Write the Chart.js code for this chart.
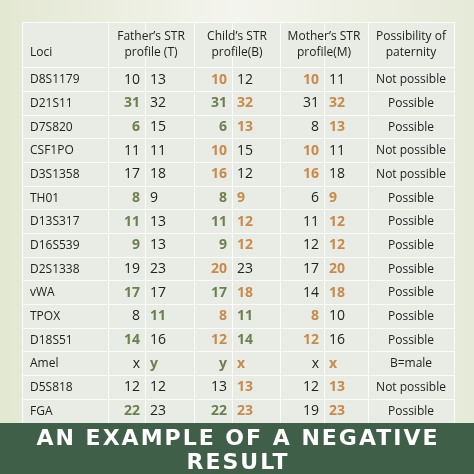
<!DOCTYPE html>
<html>
<head>
<meta charset="utf-8">
<script src="https://cdn.jsdelivr.net/npm/chart.js@4"></script>
<style>
  html, body { margin: 0; padding: 0; background: #eef0e6; }
  canvas { display: block; }
</style>
</head>
<body>
<canvas id="strChart" width="474" height="474"></canvas>
<script>
// table contents
const loci = ['D8S1179', 'D21S11', 'D7S820', 'CSF1PO', 'D3S1358', 'TH01', 'D13S317', 'D16S539',
  'D2S1338', 'vWA', 'TPOX', 'D18S51', 'Amel', 'D5S818', 'FGA'];
const father = [['10', '13'], ['31', '32'], ['6', '15'], ['11', '11'], ['17', '18'], ['8', '9'], ['11', '13'], ['9', '13'],
  ['19', '23'], ['17', '17'], ['8', '11'], ['14', '16'], ['x', 'y'], ['12', '12'], ['22', '23']];
const child = [['10', '12'], ['31', '32'], ['6', '13'], ['10', '15'], ['16', '12'], ['8', '9'], ['11', '12'], ['9', '12'],
  ['20', '23'], ['17', '18'], ['8', '11'], ['12', '14'], ['y', 'x'], ['13', '13'], ['22', '23']];
const mother = [['10', '11'], ['31', '32'], ['8', '13'], ['10', '11'], ['16', '18'], ['6', '9'], ['11', '12'], ['12', '12'],
  ['17', '20'], ['14', '18'], ['8', '10'], ['12', '16'], ['x', 'x'], ['12', '13'], ['19', '23']];
// colour codes: g = shared with father (green), o = shared with mother (orange), '' = plain
const fatherMark = [['', ''], ['g', ''], ['g', ''], ['', ''], ['', ''], ['g', ''], ['g', ''], ['g', ''],
  ['', ''], ['g', ''], ['', 'g'], ['g', ''], ['', 'g'], ['', ''], ['g', '']];
const childMark = [['o', ''], ['g', 'o'], ['g', 'o'], ['o', ''], ['o', ''], ['g', 'o'], ['g', 'o'], ['g', 'o'],
  ['o', ''], ['g', 'o'], ['o', 'g'], ['o', 'g'], ['g', 'o'], ['', 'o'], ['g', 'o']];
const motherMark = [['o', ''], ['', 'o'], ['', 'o'], ['o', ''], ['o', ''], ['', 'o'], ['', 'o'], ['', 'o'],
  ['', 'o'], ['', 'o'], ['o', ''], ['o', ''], ['', 'o'], ['', 'o'], ['', 'o']];
const paternity = ['Not possible', 'Possible', 'Possible', 'Not possible', 'Not possible', 'Possible', 'Possible', 'Possible',
  'Possible', 'Possible', 'Possible', 'Possible', 'B=male', 'Not possible', 'Possible'];
const headers = [['Loci'], ['Father\u2019s STR', 'profile (T)'], ['Child\u2019s STR', 'profile(B)'],
  ['Mother\u2019s STR', 'profile(M)'], ['Possibility of', 'paternity']];
const title = ['AN EXAMPLE OF A NEGATIVE', 'RESULT'];

// layout in table units
const colEdges = [0, 86, 123, 172, 210, 258, 302, 346, 432];
const headerHeight = 46;
const rowHeight = 23.7;
const rowEdges = [0, headerHeight];
loci.forEach((_, i) => rowEdges.push(headerHeight + (i + 1) * rowHeight));
const total = rowEdges[rowEdges.length - 1];

const colours = { g: '#6d8150', o: '#c98a4b', '': '#222222' };

const backdrop = {
  id: 'backdrop',
  beforeDraw(chart) {
    const { ctx, chartArea: a, width, height } = chart;
    ctx.save();
    const grad = ctx.createLinearGradient(0, 0, width, 0);
    grad.addColorStop(0, '#e3e8d2');
    grad.addColorStop(0.5, '#f4f4ee');
    grad.addColorStop(1, '#e6ead8');
    ctx.fillStyle = grad;
    ctx.fillRect(0, 0, width, height);
    ctx.fillStyle = '#e8ece5';
    ctx.fillRect(a.left, a.top, a.right - a.left, a.bottom - a.top);
    ctx.restore();
  },
  afterDraw(chart) {
    const { ctx, width, height } = chart;
    ctx.save();
    ctx.fillStyle = '#3f5f48';
    ctx.fillRect(0, 423, width, height - 423);
    ctx.fillStyle = '#ffffff';
    ctx.font = 'bold 22px "DejaVu Sans"';
    ctx.letterSpacing = '2px';
    ctx.textAlign = 'center';
    ctx.textBaseline = 'middle';
    ctx.fillText(title[0], width / 2 + 1, 439);
    ctx.fillText(title[1], width / 2 + 1, 463);
    ctx.restore();
  }
};

const cellText = {
  id: 'cellText',
  afterDatasetsDraw(chart) {
    const { ctx, scales: { x, y } } = chart;
    const cx = i => x.getPixelForValue((colEdges[i] + colEdges[i + 1]) / 2);
    const cy = r => y.getPixelForValue((rowEdges[r] + rowEdges[r + 1]) / 2);
    ctx.save();
    ctx.textBaseline = 'middle';
    // headers
    ctx.font = '12px "Open Sans"';
    ctx.fillStyle = '#222';
    const headCols = [[0, 1], [1, 3], [3, 5], [5, 7], [7, 8]];
    headers.forEach((lines, i) => {
      const hy = cy(0);
      if (i === 0) {
        ctx.textAlign = 'left';
        ctx.fillText(lines[0], x.getPixelForValue(8), hy + 8);
        return;
      }
      ctx.textAlign = 'center';
      const hx = (x.getPixelForValue(colEdges[headCols[i][0]]) + x.getPixelForValue(colEdges[headCols[i][1]])) / 2;
      ctx.fillText(lines[0], hx, hy - 8);
      ctx.fillText(lines[1], hx, hy + 8);
    });
    loci.forEach((name, r) => {
      const ry = cy(r + 1);
      ctx.font = '12px "Open Sans"';
      ctx.fillStyle = '#222';
      ctx.textAlign = 'left';
      ctx.fillText(name, x.getPixelForValue(8), ry);
      ctx.textAlign = 'center';
      ctx.fillText(paternity[r], cx(7), ry);
      [[father, fatherMark, 1], [child, childMark, 3], [mother, motherMark, 5]].forEach(([vals, marks, c]) => {
        for (let k = 0; k < 2; k++) {
          const m = marks[r][k];
          ctx.font = (m ? 'bold ' : '') + '14px "Open Sans"';
          ctx.fillStyle = colours[m];
          if (k === 0) {
            ctx.textAlign = 'right';
            ctx.fillText(vals[r][0], x.getPixelForValue(colEdges[c + 1]) - 5, ry);
          } else {
            ctx.textAlign = 'left';
            ctx.fillText(vals[r][1], x.getPixelForValue(colEdges[c + 1]) + 5, ry);
          }
        }
      });
    });
    ctx.restore();
  }
};

new Chart(document.getElementById('strChart'), {
  type: 'scatter',
  data: { datasets: [{ data: [], pointRadius: 0 }] },
  options: {
    responsive: false,
    animation: false,
    events: [],
    layout: { padding: { left: 22, top: 22, right: 20, bottom: 51 } },
    plugins: { legend: { display: false }, tooltip: { enabled: false } },
    scales: {
      x: {
        type: 'linear', min: 0, max: colEdges[colEdges.length - 1],
        afterBuildTicks: s => { s.ticks = colEdges.map(v => ({ value: v })); },
        ticks: { display: false },
        grid: { color: '#fbfcfa', lineWidth: 1, drawTicks: false },
        border: { display: false }
      },
      y: {
        type: 'linear', reverse: true, min: 0, max: total,
        afterBuildTicks: s => { s.ticks = rowEdges.map(v => ({ value: v })); },
        ticks: { display: false },
        grid: { color: '#fbfcfa', lineWidth: 1, drawTicks: false },
        border: { display: false }
      }
    }
  },
  plugins: [backdrop, cellText]
});
</script>
</body>
</html>
